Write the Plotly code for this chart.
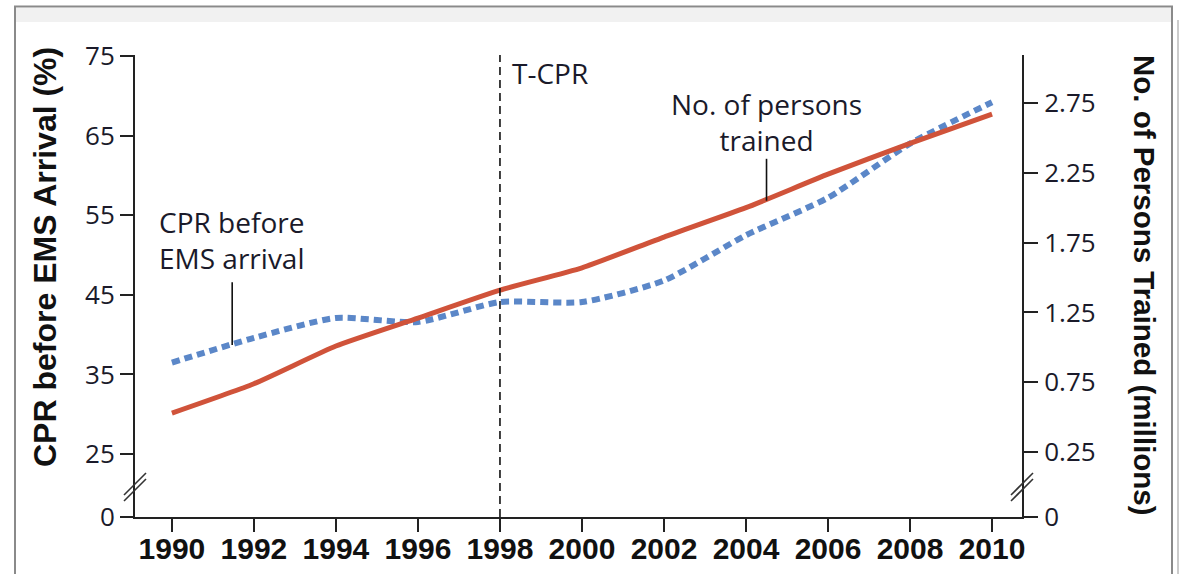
import plotly.graph_objects as go

# ---- data ----
years = [1990, 1992, 1994, 1996, 1998, 2000, 2002, 2004, 2006, 2008, 2010]
cpr_before_ems = [36.5, 39.6, 42.1, 41.6, 44.1, 44.1, 46.8, 52.5, 57.2, 64.0, 69.2]   # %
persons_trained = [0.53, 0.74, 1.01, 1.21, 1.41, 1.57, 1.79, 2.00, 2.24, 2.46, 2.67]  # millions
x_ticks = list(range(1990, 2011, 2))
left_ticks = [25, 35, 45, 55, 65, 75]
right_ticks = [0.25, 0.75, 1.25, 1.75, 2.25, 2.75]
tcpr_year = 1998

# ---- geometry ----
W, H = 1180, 574
L, R, T, B = 135, 1022, 55, 517
PW, PH = R - L, B - T

def px(x):
    return (x - L) / PW

def py(y):
    return (B - y) / PH

x_range = [1989.1, 2010.73]
y1_range = [17.10, 75.13]
y2_range = [-0.214, 3.093]

RED = "#D0533A"
BLUE = "#5B87C8"
TXT = "#1a1a2a"

fig = go.Figure()
fig.add_trace(go.Scatter(
    x=years, y=cpr_before_ems, mode="lines", yaxis="y",
    line=dict(color=BLUE, width=6, dash="8px,5px", shape="spline", smoothing=0.6),
    hoverinfo="skip"))
fig.add_trace(go.Scatter(
    x=years, y=persons_trained, mode="lines", yaxis="y2",
    line=dict(color=RED, width=5, shape="spline", smoothing=0.5),
    hoverinfo="skip"))

tickfont_reg = dict(family="Open Sans", size=26, color=TXT)

fig.update_layout(
    width=W, height=H, autosize=False,
    margin=dict(l=L, r=W - R, t=T, b=H - B, pad=0, autoexpand=False),
    paper_bgcolor="white", plot_bgcolor="white",
    showlegend=False,
    xaxis=dict(range=x_range, tickvals=x_ticks, ticktext=[str(v) for v in x_ticks],
               automargin=False, ticklabelstandoff=-9,
               showgrid=False, zeroline=False, showline=True, linecolor="#222", linewidth=2,
               ticks="outside", ticklen=13, tickwidth=2, tickcolor="#222",
               tickfont=dict(family="Liberation Sans", size=30, color="#111", weight="bold")),
    yaxis=dict(range=y1_range, tickvals=[y1_range[0] + 1e-4] + left_ticks,
               ticktext=["0"] + [str(v) for v in left_ticks], automargin=False,
               showgrid=False, zeroline=False, showline=True, linecolor="#222", linewidth=2,
               ticks="outside", ticklen=13, tickwidth=2, tickcolor="#222", ticklabelstandoff=0,
               tickfont=tickfont_reg),
    yaxis2=dict(range=y2_range, overlaying="y", side="right",
                tickvals=[y2_range[0] + 1e-5] + right_ticks,
                ticktext=["0"] + ["%.2f" % v for v in right_ticks], automargin=False,
                showgrid=False, zeroline=False, showline=True, linecolor="#222", linewidth=2,
                ticks="outside", ticklen=14, tickwidth=2, tickcolor="#222", ticklabelstandoff=1,
                tickfont=tickfont_reg),
)

shapes = []
# T-CPR dashed line
shapes.append(dict(type="line", xref="x", yref="paper", x0=tcpr_year, x1=tcpr_year, y0=0, y1=1,
                   line=dict(color="#111", width=1.6, dash="8px,5px")))
# pointer lines
shapes.append(dict(type="line", xref="x", yref="y", x0=1991.47, x1=1991.47, y0=46.6, y1=38.7,
                   line=dict(color="#111", width=1.6)))
shapes.append(dict(type="line", xref="x", yref="y2", x0=2004.5, x1=2004.5, y0=2.35, y1=2.05,
                   line=dict(color="#111", width=1.6)))
# axis break marks
for cx in (L, R):
    for dy in (-3, 3):
        shapes.append(dict(type="line", xref="paper", yref="paper",
                           x0=px(cx - 11), y0=py(498 + dy), x1=px(cx + 11), y1=py(476 + dy),
                           line=dict(color="#333", width=1.6)))
# window frame decoration
shapes.append(dict(type="rect", xref="paper", yref="paper", x0=px(16), x1=px(1171),
                   y0=py(22), y1=py(8), fillcolor="#f1f1f1", line=dict(width=0), layer="below"))
shapes.append(dict(type="rect", xref="paper", yref="paper", x0=px(15), x1=px(1172),
                   y0=py(590), y1=py(6.5), fillcolor="rgba(0,0,0,0)",
                   line=dict(color="#8a8a8a", width=2)))
shapes.append(dict(type="line", xref="paper", yref="paper", x0=px(1178), x1=px(1178),
                   y0=py(590), y1=py(20), line=dict(color="#bbbbbb", width=1.5)))
fig.update_layout(shapes=shapes)

ann_font = dict(family="Open Sans", size=28, color=TXT)
fig.add_annotation(x=1991.47, y=51.9, xref="x", yref="y", text="CPR before<br>EMS arrival",
                   showarrow=False, font=ann_font, align="center", xanchor="center", yanchor="middle")
fig.add_annotation(x=2004.5, y=2.614, xref="x", yref="y2", text="No. of persons<br>trained",
                   showarrow=False, font=ann_font, align="center", xanchor="center", yanchor="middle")
fig.add_annotation(x=tcpr_year, y=py(73), xref="x", yref="paper", text="T-CPR",
                   showarrow=False, font=ann_font, xanchor="left", yanchor="middle", xshift=10)
# axis titles
fig.add_annotation(x=px(45), y=py(257), xref="paper", yref="paper", text="CPR before EMS Arrival (%)",
                   showarrow=False, textangle=-90, xanchor="center", yanchor="middle",
                   font=dict(family="Liberation Sans", size=32, color="#111", weight="bold"))
fig.add_annotation(x=px(1145), y=py(285), xref="paper", yref="paper",
                   text="No. of Persons Trained (millions)",
                   showarrow=False, textangle=90, xanchor="center", yanchor="middle",
                   font=dict(family="Liberation Sans", size=29.5, color="#111", weight="bold"))

fig.write_html("out.html", config={"displayModeBar": False},
               post_script="document.body.style.margin='0px';document.body.style.overflow='hidden';")
